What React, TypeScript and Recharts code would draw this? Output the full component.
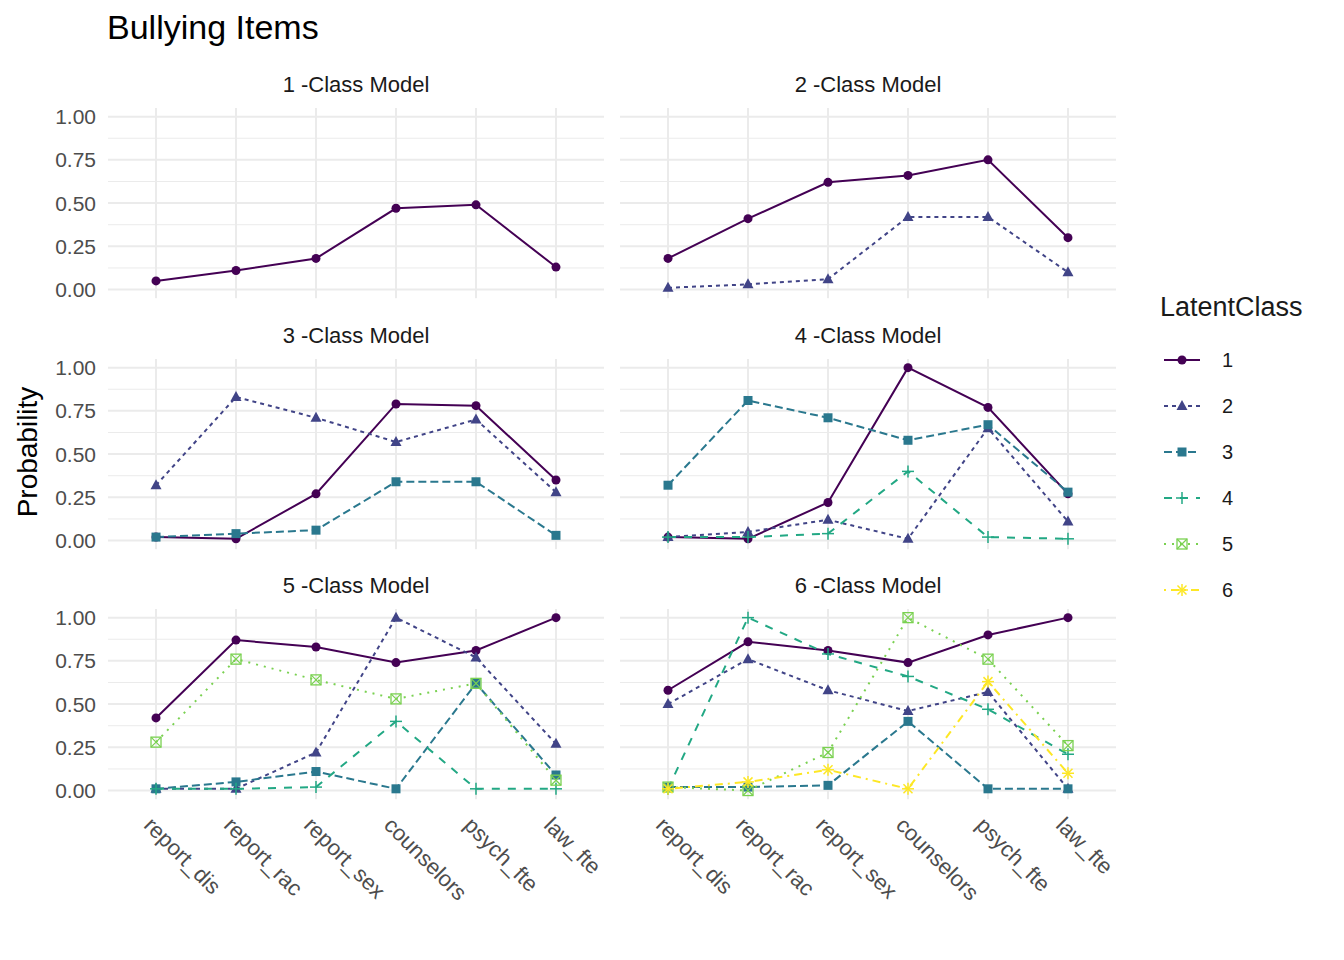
import React from "react";
import { CartesianGrid, Line, LineChart, XAxis, YAxis } from "recharts";

const items = ["report_dis", "report_rac", "report_sex", "counselors", "psych_fte", "law_fte"];
const yTicks = [0, 0.25, 0.5, 0.75, 1];
const minorTicks = [0.125, 0.375, 0.625, 0.875];

// values per model, one list per latent class
const model1 = [[0.05, 0.11, 0.18, 0.47, 0.49, 0.13]];
const model2 = [
  [0.18, 0.41, 0.62, 0.66, 0.75, 0.3],
  [0.01, 0.03, 0.06, 0.42, 0.42, 0.1],
];
const model3 = [
  [0.02, 0.01, 0.27, 0.79, 0.78, 0.35],
  [0.32, 0.83, 0.71, 0.57, 0.7, 0.28],
  [0.02, 0.04, 0.06, 0.34, 0.34, 0.03],
];
const model4 = [
  [0.02, 0.01, 0.22, 1.0, 0.77, 0.27],
  [0.02, 0.05, 0.12, 0.01, 0.65, 0.11],
  [0.32, 0.81, 0.71, 0.58, 0.67, 0.28],
  [0.02, 0.02, 0.04, 0.4, 0.02, 0.01],
];
const model5 = [
  [0.42, 0.87, 0.83, 0.74, 0.81, 1.0],
  [0.01, 0.01, 0.22, 1.0, 0.77, 0.27],
  [0.01, 0.05, 0.11, 0.01, 0.62, 0.09],
  [0.01, 0.01, 0.02, 0.4, 0.01, 0.01],
  [0.28, 0.76, 0.64, 0.53, 0.62, 0.06],
];
const model6 = [
  [0.58, 0.86, 0.81, 0.74, 0.9, 1.0],
  [0.5, 0.76, 0.58, 0.46, 0.57, 0.01],
  [0.02, 0.02, 0.03, 0.4, 0.01, 0.01],
  [0.01, 1.0, 0.79, 0.66, 0.47, 0.21],
  [0.02, 0.0, 0.22, 1.0, 0.76, 0.26],
  [0.01, 0.05, 0.12, 0.01, 0.63, 0.1],
];
const models = [model1, model2, model3, model4, model5, model6];

const colors = ["#440154", "#414487", "#2A788E", "#22A884", "#7AD151", "#FDE725"];
const dashes = ["", "4 4", "8 4", "8 8", "2 6", "2 5 8 5"];
const shapes = ["circle", "triangle", "square", "plus", "squarecross", "asterisk"];

const font = "Liberation Sans, Arial, sans-serif";

function Marker({ cx, cy, cls }: { cx: number; cy: number; cls: number }) {
  const c = colors[cls];
  const s = shapes[cls];
  if (s === "circle") return <circle cx={cx} cy={cy} r={4.5} fill={c} />;
  if (s === "triangle")
    return <polygon points={`${cx},${cy - 6} ${cx - 5.5},${cy + 4} ${cx + 5.5},${cy + 4}`} fill={c} />;
  if (s === "square") return <rect x={cx - 4.5} y={cy - 4.5} width={9} height={9} fill={c} />;
  if (s === "plus")
    return (
      <g stroke={c} strokeWidth={1.5}>
        <line x1={cx - 6} y1={cy} x2={cx + 6} y2={cy} />
        <line x1={cx} y1={cy - 6} x2={cx} y2={cy + 6} />
      </g>
    );
  if (s === "squarecross")
    return (
      <g stroke={c} strokeWidth={1.3} fill="none">
        <rect x={cx - 5} y={cy - 5} width={10} height={10} />
        <line x1={cx - 5} y1={cy - 5} x2={cx + 5} y2={cy + 5} />
        <line x1={cx - 5} y1={cy + 5} x2={cx + 5} y2={cy - 5} />
      </g>
    );
  return (
    <g stroke={c} strokeWidth={1.5}>
      <line x1={cx - 6} y1={cy} x2={cx + 6} y2={cy} />
      <line x1={cx} y1={cy - 6} x2={cx} y2={cy + 6} />
      <line x1={cx - 4.5} y1={cy - 4.5} x2={cx + 4.5} y2={cy + 4.5} />
      <line x1={cx - 4.5} y1={cy + 4.5} x2={cx + 4.5} y2={cy - 4.5} />
    </g>
  );
}

function RotTick(props: any) {
  const { x, y, payload } = props;
  const tx = x - 2;
  const ty = y + 8;
  return (
    <text
      x={tx}
      y={ty}
      transform={`rotate(45 ${tx} ${ty})`}
      textAnchor="start"
      dominantBaseline="hanging"
      fill="#4D4D4D"
      fontSize={22}
      fontFamily={font}
    >
      {items[payload.value - 1]}
    </text>
  );
}

function Panel({ idx }: { idx: number }) {
  const col = idx % 2;
  const row = Math.floor(idx / 2);
  const m = models[idx];
  const data = items.map((_, i) => {
    const d: any = { x: i + 1 };
    m.forEach((vals, c) => (d["c" + c] = vals[i]));
    return d;
  });
  const bottom = row === 2;
  const plotTop = 108.4 + 250.4 * row;
  const left = col === 0 ? 40 : 610;
  const width = col === 0 ? 580 : 516;
  const top = plotTop - 8;
  const height = 8 + 190.2 + (bottom ? 120 : 16);
  return (
    <div style={{ position: "absolute", left, top }}>
      <LineChart
        width={width}
        height={height}
        data={data}
        margin={{ top: 8, right: col === 0 ? 16 : 10, left: col === 0 ? 0 : 10, bottom: bottom ? 0 : 16 }}
      >
        <CartesianGrid horizontalValues={minorTicks} vertical={false} stroke="#EBEBEB" strokeWidth={1} />
        <CartesianGrid horizontalValues={yTicks} verticalValues={[1, 2, 3, 4, 5, 6]} stroke="#EBEBEB" strokeWidth={2} />
        <XAxis
          dataKey="x"
          type="number"
          domain={[0.4, 6.6]}
          ticks={[1, 2, 3, 4, 5, 6]}
          hide={!bottom}
          height={bottom ? 120 : 0}
          axisLine={false}
          tickLine={false}
          tick={<RotTick />}
          interval={0}
        />
        <YAxis
          type="number"
          domain={[-0.05, 1.05]}
          ticks={yTicks}
          hide={col !== 0}
          width={68}
          axisLine={false}
          tickLine={false}
          interval={0}
          tickFormatter={(v: number) => v.toFixed(2)}
          tick={{ fill: "#4D4D4D", fontSize: 21, fontFamily: font, dx: -4 }}
        />
        {m.map((_, c) => (
          <Line
            key={c}
            type="linear"
            dataKey={"c" + c}
            stroke={colors[c]}
            strokeWidth={2}
            strokeDasharray={dashes[c]}
            isAnimationActive={false}
            dot={(p: any) => <Marker key={p.index} cx={p.cx} cy={p.cy} cls={c} />}
            activeDot={false}
          />
        ))}
      </LineChart>
      <div
        style={{
          position: "absolute",
          top: -28,
          left: col === 0 ? 68 : 10,
          width: 496,
          textAlign: "center",
          fontFamily: font,
          fontSize: 22,
          color: "#1A1A1A",
        }}
      >
        {idx + 1} -Class Model
      </div>
    </div>
  );
}

function Legend() {
  return (
    <div style={{ position: "absolute", left: 1160, top: 292, fontFamily: font }}>
      <div style={{ fontSize: 27, color: "#1A1A1A" }}>LatentClass</div>
      <svg width={120} height={300} style={{ position: "absolute", top: 45, left: 0 }}>
        {colors.map((c, i) => {
          const y = 23 + i * 46;
          return (
            <g key={i}>
              <line x1={4} x2={40} y1={y} y2={y} stroke={c} strokeWidth={2} strokeDasharray={dashes[i]} />
              <Marker cx={22} cy={y} cls={i} />
              <text x={62} y={y + 7} fontSize={20} fill="#1A1A1A" fontFamily={font}>
                {i + 1}
              </text>
            </g>
          );
        })}
      </svg>
    </div>
  );
}

export default function App() {
  return (
    <div style={{ position: "absolute", left: 0, top: 0, width: 1344, height: 960, background: "#fff" }}>
      <div style={{ position: "absolute", left: 107, top: 8, fontFamily: font, fontSize: 34, color: "#000" }}>
        Bullying Items
      </div>
      <div
        style={{
          position: "absolute",
          left: 28,
          top: 452,
          transform: "translate(-50%, -50%) rotate(-90deg)",
          fontFamily: font,
          fontSize: 28,
          color: "#000",
        }}
      >
        Probability
      </div>
      {models.map((_, i) => (
        <Panel key={i} idx={i} />
      ))}
      <Legend />
    </div>
  );
}
